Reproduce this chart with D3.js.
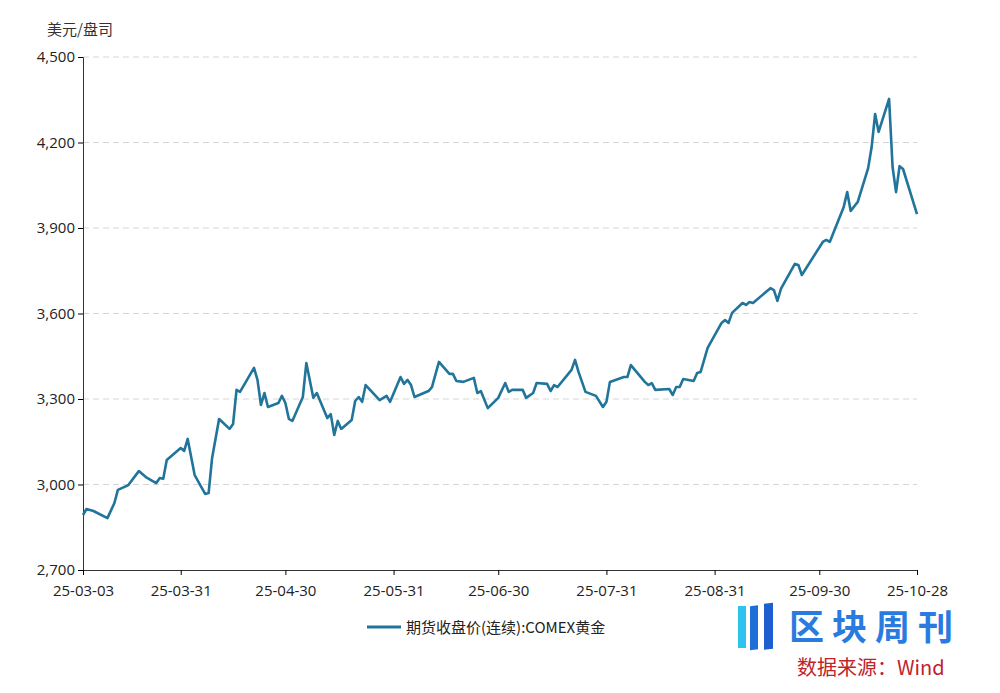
<!DOCTYPE html>
<html><head><meta charset="utf-8">
<script src="https://cdn.jsdelivr.net/npm/d3@7"></script>
<style>body{margin:0;background:#fff;font-family:"Noto Sans CJK SC","Noto Sans",sans-serif}</style>
</head><body>
<script>
// days since 2025-03-03
var dayOffsets = [0,1,3,7,9,10,13,16,18,21,22,23,24,28,29,30,32,35,36,37,39,42,43,44,45,49,50,51,52,53,56,57,58,59,60,63,64,66,67,70,71,72,73,74,77,78,79,80,81,85,87,88,91,92,93,94,95,99,100,102,105,106,107,109,112,113,114,116,119,121,122,123,126,127,129,130,133,134,135,136,140,141,142,144,147,149,150,151,155,156,157,161,162,163,164,168,169,170,171,172,175,176,177,179,183,184,185,186,189,190,191,192,197,198,199,200,204,205,206,212,213,214,218,219,220,222,225,226,227,228,231,232,233,234,235,239];
var prices = [2893,2914,2907,2882,2935,2981,2998,3047,3026,3005,3023,3020,3086,3128,3118,3160,3033,2967,2970,3093,3230,3195,3212,3332,3325,3409,3367,3279,3321,3272,3286,3311,3286,3230,3223,3307,3426,3304,3321,3233,3247,3174,3223,3195,3226,3293,3307,3290,3349,3296,3311,3290,3377,3353,3367,3349,3307,3328,3342,3430,3388,3388,3363,3360,3374,3321,3328,3268,3304,3356,3325,3332,3332,3304,3321,3356,3353,3328,3349,3342,3402,3437,3395,3325,3311,3272,3290,3360,3377,3377,3419,3360,3349,3356,3332,3335,3314,3342,3342,3370,3363,3391,3395,3479,3567,3577,3567,3602,3637,3630,3640,3637,3689,3682,3644,3686,3774,3770,3735,3851,3858,3851,3974,4026,3960,3991,4110,4184,4300,4237,4353,4114,4026,4117,4107,3949];
var yTicks = [2700,3000,3300,3600,3900,4200,4500];
var xTickLabels = ["25-03-03","25-03-31","25-04-30","25-05-31","25-06-30","25-07-31","25-08-31","25-09-30","25-10-28"];
var seriesName = "期货收盘价(连续):COMEX黄金";
var unitLabel = "美元/盘司";

var W = 1000, H = 693;
var svg = d3.select("body").append("svg").attr("width", W).attr("height", H);
var parse = d3.timeParse("%y-%m-%d");
var start = parse("25-03-03");
var data = dayOffsets.map((d, i) => [d3.timeDay.offset(start, d), prices[i]]);

var x = d3.scaleTime().domain([start, parse("25-10-28")]).range([83, 917]);
var y = d3.scaleLinear().domain([2700, 4500]).range([570, 57]);

// grid
svg.append("g").selectAll("line").data(yTicks.slice(1)).join("line")
    .attr("x1", 83).attr("x2", 917)
    .attr("y1", d => y(d)).attr("y2", d => y(d))
    .attr("stroke", "#d6d6d6").attr("stroke-dasharray", "6,4");

var yAxis = svg.append("g").attr("transform", "translate(83,0)")
    .call(d3.axisLeft(y).tickValues(yTicks).tickFormat(d3.format(",")).tickSize(5));
yAxis.select(".domain").attr("stroke", "#333");
yAxis.selectAll("text").attr("font-size", 15).attr("fill", "#222").attr("font-family", "Open Sans");

var xAxis = svg.append("g").attr("transform", "translate(0,570)")
    .call(d3.axisBottom(x).tickValues(xTickLabels.map(parse)).tickFormat(d3.timeFormat("%y-%m-%d")).tickSize(5).tickSizeOuter(0));
xAxis.select(".domain").attr("stroke", "#333");
xAxis.selectAll("text").attr("font-size", 15).attr("fill", "#222").attr("font-family", "Open Sans").attr("dy", "1.2em");

svg.append("path").datum(data)
    .attr("d", d3.line().x(d => x(d[0])).y(d => y(d[1])))
    .attr("fill", "none").attr("stroke", "#21749a").attr("stroke-width", 2.6).attr("stroke-linejoin", "round");

svg.append("text").attr("x", 47).attr("y", 35).attr("font-size", 15).attr("fill", "#333").text(unitLabel);

// legend
svg.append("line").attr("x1", 367).attr("x2", 401).attr("y1", 627).attr("y2", 627)
    .attr("stroke", "#21749a").attr("stroke-width", 3);
svg.append("text").attr("x", 406).attr("y", 633).attr("font-size", 15).attr("fill", "#222").text(seriesName);

// watermark
var wm = svg.append("g");
wm.append("rect").attr("x", 738).attr("y", 606).attr("width", 8).attr("height", 42).attr("fill", "#2ec4ef");
wm.append("rect").attr("x", 750).attr("y", 606).attr("width", 8).attr("height", 44).attr("fill", "#1e6fd8").attr("transform", "skewY(-6) translate(0,79)");
wm.append("rect").attr("x", 764).attr("y", 604).attr("width", 9).attr("height", 46).attr("fill", "#1e5fd0").attr("transform", "skewY(-6) translate(0,80)");
wm.append("text").attr("x", 789).attr("y", 640).attr("font-size", 35).attr("font-weight", "bold").attr("letter-spacing", 8).attr("fill", "#2a7be0").text("区块周刊");
wm.append("text").attr("x", 797).attr("y", 675).attr("font-size", 20).attr("fill", "#c0232a").text("数据来源：Wind");
</script>
</body></html>
